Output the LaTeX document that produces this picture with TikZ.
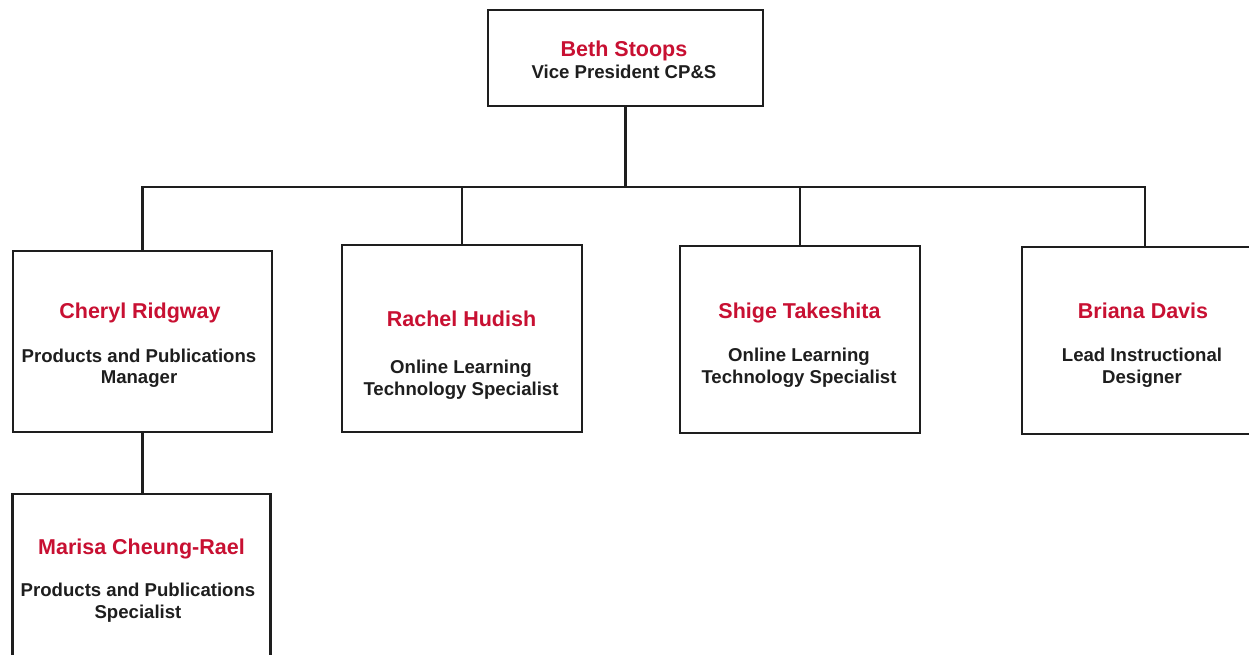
\documentclass[tikz,border=0pt]{standalone}
\usepackage{fontspec}
\setmainfont{Liberation Sans}
\definecolor{namered}{RGB}{200,16,50}
\definecolor{ink}{RGB}{30,30,30}
\begin{document}
\begin{tikzpicture}[x=1pt,y=-1pt,
  box/.style={draw=ink,line width=2.6pt,fill=white,inner sep=0pt},
  conn/.style={draw=ink,line width=2.3pt},
  pname/.style={anchor=base,inner sep=0pt,text=namered,font=\fontsize{21.5}{24}\selectfont\bfseries},
  ptitle/.style={anchor=base,inner sep=0pt,text=ink,font=\fontsize{18.6}{22}\selectfont\bfseries}]
\useasboundingbox (0,0) rectangle (1249,654);
\clip (0,0) rectangle (1249,654);
\fill[white] (0,0) rectangle (1249,654);
% boxes
\node[box,minimum width=275pt,minimum height=96pt] (beth) at (625.5,58) {};
\node[box,minimum width=259pt,minimum height=181pt] (cheryl) at (142.5,341.5) {};
\node[box,minimum width=240pt,minimum height=187pt] (rachel) at (462,338.5) {};
\node[box,minimum width=240pt,minimum height=187pt] (shige) at (800,339.5) {};
\node[box,minimum width=246pt,minimum height=187pt] (briana) at (1145,340.5) {};
\node[box,minimum width=258pt,minimum height=181pt] (marisa) at (141.5,584.5) {};
% connectors
\coordinate (bus) at (625.5,187);
\draw[conn] (beth.south) -- (bus);
\draw[conn] (bus) -| (cheryl.north);
\draw[conn] (bus) -| (rachel.north);
\draw[conn] (bus) -| (shige.north);
\draw[conn] (bus) -| (briana.north);
\draw[conn] (cheryl.south) -- (cheryl.south |- marisa.north);
% texts
\node[pname] (t1) at (624,56) {Beth Stoops};
\node[ptitle] (t2) at (624,78) {Vice President CP\&S};
\node[pname] (t3) at (140,318.5) {Cheryl Ridgway};
\node[ptitle] (t4) at (139,362) {Products and Publications};
\node[ptitle] (t5) at (139,383.5) {Manager};
\node[pname] (t6) at (461.5,326.5) {Rachel Hudish};
\node[ptitle] (t7) at (461,373) {Online Learning};
\node[ptitle] (t8) at (461,395) {Technology Specialist};
\node[pname] (t9) at (799.5,318) {Shige Takeshita};
\node[ptitle] (t10) at (799,361) {Online Learning};
\node[ptitle] (t11) at (799,383) {Technology Specialist};
\node[pname] (t12) at (1143,318.5) {Briana Davis};
\node[ptitle] (t13) at (1142,361.5) {Lead Instructional};
\node[ptitle] (t14) at (1142,383.5) {Designer};
\node[pname] (t15) at (141.5,554) {Marisa Cheung-Rael};
\node[ptitle] (t16) at (138,596) {Products and Publications};
\node[ptitle] (t17) at (138,618.5) {Specialist};
\end{tikzpicture}
\end{document}
